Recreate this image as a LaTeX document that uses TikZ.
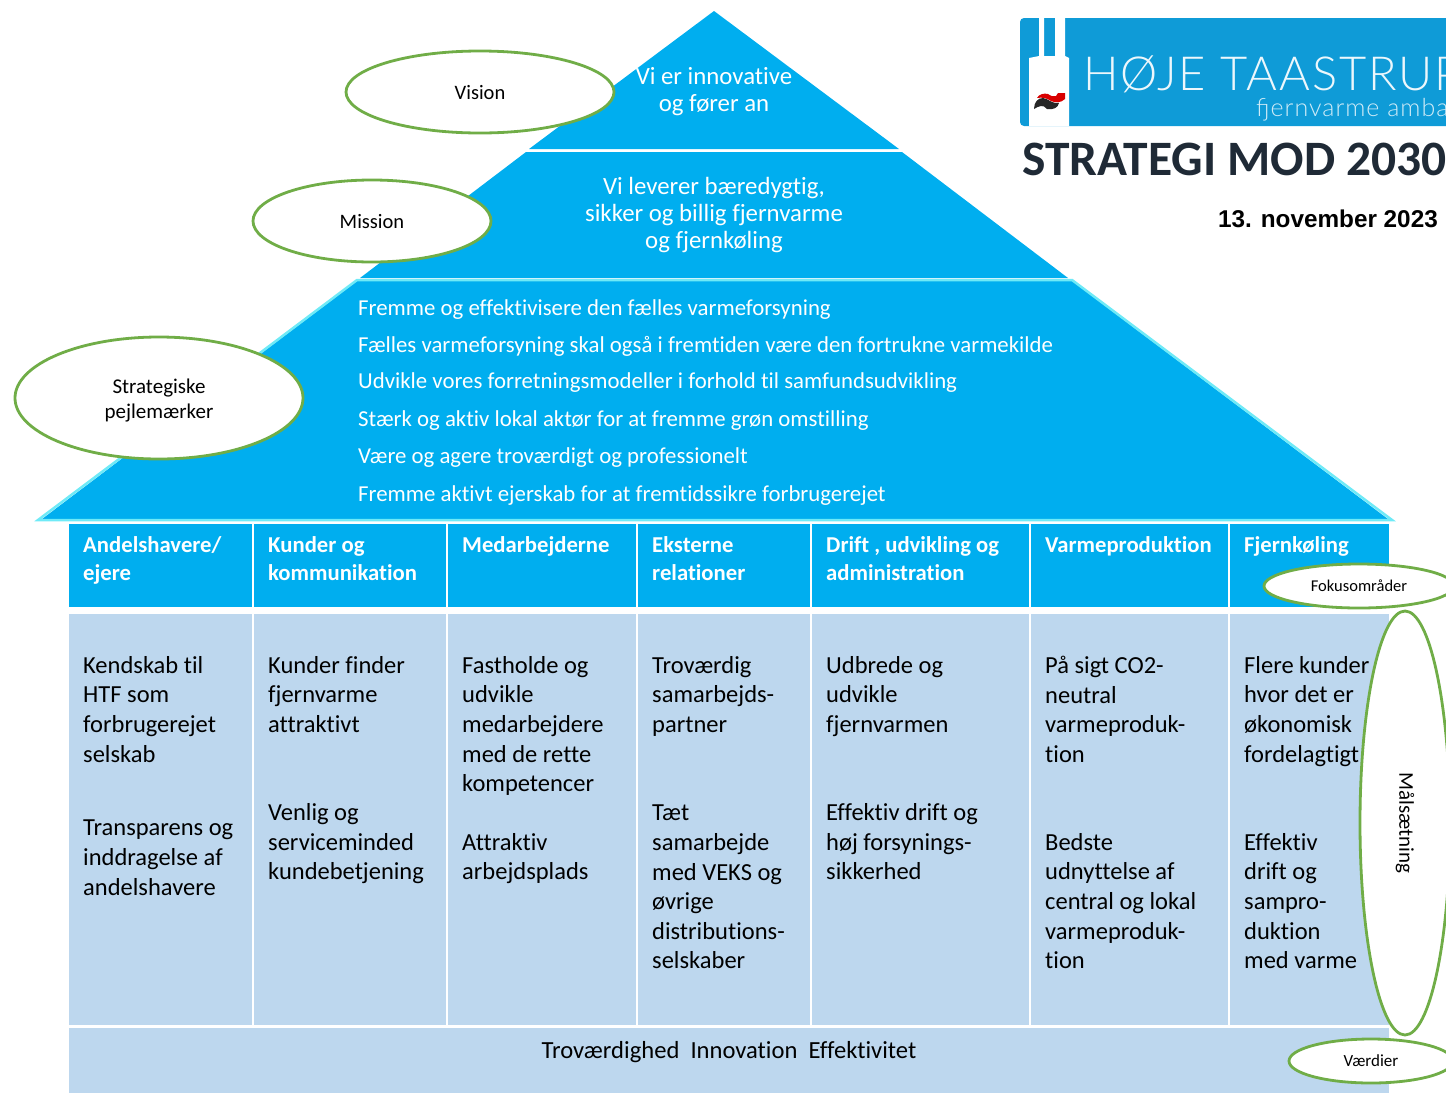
\documentclass[tikz,border=0pt]{standalone}
\usepackage{fontspec}
\setmainfont[Ligatures=NoCommon]{Carlito}
\newfontfamily\logofont[LetterSpace=4]{Lato Light}
\newfontfamily\datefont{Liberation Sans}
\usetikzlibrary{shapes.geometric}
\definecolor{roofblue}{HTML}{00AEEF}
\definecolor{edgecyan}{HTML}{6FEAF7}
\definecolor{bodyblue}{HTML}{BDD7EE}
\definecolor{logoblue}{HTML}{0F9BD7}
\definecolor{ringgreen}{HTML}{70AD47}
\definecolor{inkdark}{HTML}{1F2A36}
\tikzset{
    bubble/.style={ellipse,draw=ringgreen,line width=2.8pt,fill=white,inner sep=0pt},
    bubbletext/.style={text=black,align=center,inner sep=0pt},
    roofline/.style={font=\fontsize{22.8}{30}\selectfont,text=white,anchor=west,inner sep=0pt},
    roofhead/.style={font=\fontsize{24.8}{27}\selectfont,text=white,align=center,inner sep=0pt},
    headcell/.style={font=\fontsize{22.7}{28}\selectfont\bfseries,text=white,anchor=north west,align=left,inner sep=0pt},
    bodycell/.style={font=\fontsize{24.5}{29.6}\selectfont,text=black,anchor=north west,align=left,inner sep=0pt}
}
\begin{document}
\begin{tikzpicture}[x=1pt,y=-1pt]
    \useasboundingbox (0,0) rectangle (1446,1093);
    \clip (0,0) rectangle (1446,1093);

    \fill[roofblue] (714,11) -- (899,149) -- (529,149) -- cycle;
    \fill[roofblue] (526,152) -- (902,152) -- (1068,278) -- (360,278) -- cycle;
    \fill[roofblue] (357,281) -- (1072,281) -- (1388,519) -- (42,519) -- cycle;
    \draw[edgecyan,line width=2.5pt] (1072,280) -- (357,280) -- (38,520) -- (1392,520) -- cycle;

    \foreach \xa/\xb in {69/252,254/446,448/636,638/810,812/1029,1031/1228,1230/1389} {
        \fill[roofblue] (\xa,524) rectangle (\xb,607);
        \fill[bodyblue] (\xa,614) rectangle (\xb,1025);
    }
    \fill[bodyblue] (69,1028) rectangle (1389,1093);

    \fill[logoblue,rounded corners=4pt] (1020,18) rectangle (1470,126);
    \fill[white] (1029,126) -- (1029,58) -- (1039,56) -- (1039,18) -- (1044,18) -- (1044,56)
        -- (1055,56) -- (1055,18) -- (1065,18) -- (1065,56) -- (1069,58) -- (1069,126) -- cycle;
    \fill[black!85] (1034,109) .. controls (1034,102) and (1038,98) .. (1043,98)
        .. controls (1049,99) and (1052,104) .. (1059,103)
        .. controls (1058,108) and (1053,110) .. (1047,109)
        .. controls (1043,104) and (1039,106) .. (1034,109) -- cycle;
    \fill[red!85!black] (1037,98) .. controls (1039,94) and (1044,93) .. (1048,94)
        .. controls (1051,96) and (1053,97) .. (1056,96)
        -- (1058,93) -- (1065,93) -- (1065,99)
        .. controls (1061,103) and (1055,103) .. (1051,101)
        .. controls (1047,98) and (1042,97) .. (1037,98) -- cycle;

    \node[font=\logofont\fontsize{47}{47}\selectfont,text=white!92!logoblue,anchor=base west,inner sep=0pt] (logoname) at (1083,90) {HØJE TAASTRUP};
    \node[font=\logofont\fontsize{25}{25}\selectfont,text=white!80!logoblue,anchor=base west,inner sep=0pt] (logosub) at (1256,116) {fjernvarme amba};
    \node[font=\fontsize{49.5}{50}\selectfont\bfseries,text=inkdark,anchor=base west,inner sep=0pt] (title) at (1022,175) {STRATEGI MOD 2030};
    \node[font=\datefont\fontsize{24.3}{24}\selectfont\bfseries,text=black,anchor=base east,inner sep=0pt] (date) at (1438,227) {13. november 2023};

    \node[roofhead] (visiontext) at (714,92) {Vi er innovative\\og fører an};
    \node[roofhead] (missiontext) at (714,215.5) {Vi leverer bæredygtig,\\sikker og billig fjernvarme\\og fjernkøling};

    \begin{scope}[every node/.style={roofline}]
        \node (pejl1) at (358,310) {Fremme og effektivisere den fælles varmeforsyning};
        \node (pejl2) at (358,346) {Fælles varmeforsyning skal også i fremtiden være den fortrukne varmekilde};
        \node (pejl3) at (358,383) {Udvikle vores forretningsmodeller i forhold til samfundsudvikling};
        \node (pejl4) at (358,421) {Stærk og aktiv lokal aktør for at fremme grøn omstilling};
        \node (pejl5) at (358,458) {Være og agere troværdigt og professionelt};
        \node (pejl6) at (358,496) {Fremme aktivt ejerskab for at fremtidssikre forbrugerejet};
    \end{scope}

    \begin{scope}[every node/.style={headcell}]
        \node (head1) at (83,536) {Andelshavere/\\ejere};
        \node (head2) at (268,536) {Kunder og\\kommunikation};
        \node (head3) at (462,536) {Medarbejderne};
        \node (head4) at (652,536) {Eksterne\\relationer};
        \node (head5) at (826,536) {Drift , udvikling og\\administration};
        \node (head6) at (1045,536) {Varmeproduktion};
        \node (head7) at (1244,536) {Fjernkøling};
    \end{scope}

    \begin{scope}[every node/.style={bodycell}]
        \node (maal1a) at (83,656) {Kendskab til\\HTF som\\forbrugerejet\\selskab};
        \node (maal1b) at (83,820) {Transparens og\\inddragelse af\\andelshavere};
        \node (maal2a) at (268,656) {Kunder finder\\fjernvarme\\attraktivt};
        \node (maal2b) at (268,803.5) {Venlig og\\serviceminded\\kundebetjening};
        \node (maal3a) at (462,656) {Fastholde og\\udvikle\\medarbejdere\\med de rette\\kompetencer};
        \node (maal3b) at (462,833) {Attraktiv\\arbejdsplads};
        \node (maal4a) at (652,656) {Troværdig\\samarbejds-\\partner};
        \node (maal4b) at (652,805) {Tæt\\samarbejde\\med VEKS og\\øvrige\\distributions-\\selskaber};
        \node (maal5a) at (826,656) {Udbrede og\\udvikle\\fjernvarmen};
        \node (maal5b) at (826,803.5) {Effektiv drift og\\høj forsynings-\\sikkerhed};
        \node (maal6a) at (1045,656) {På sigt CO2-\\neutral\\varmeproduk-\\tion};
        \node (maal6b) at (1045,833) {Bedste\\udnyttelse af\\central og lokal\\varmeproduk-\\tion};
        \node (maal7a) at (1244,656) {Flere kunder\\hvor det er\\økonomisk\\fordelagtigt};
        \node (maal7b) at (1244,833) {Effektiv\\drift og\\sampro-\\duktion\\med varme};
    \end{scope}

    \node[font=\fontsize{24.6}{28}\selectfont,text=black,inner sep=0pt] (values) at (729,1052) {Troværdighed\ \ Innovation\ \ Effektivitet};

    \node[bubble,minimum width=268pt,minimum height=82pt] (vision) at (480,92) {};
    \node[bubbletext,font=\fontsize{20.5}{25}\selectfont] (visionlabel) at (480,93) {Vision};
    \node[bubble,minimum width=238pt,minimum height=82pt] (mission) at (372,221) {};
    \node[bubbletext,font=\fontsize{20.5}{25}\selectfont] (missionlabel) at (372,222) {Mission};
    \node[bubble,minimum width=288pt,minimum height=122pt] (pejlemaerker) at (159,398) {};
    \node[bubbletext,font=\fontsize{21}{25}\selectfont] (pejlelabel) at (159,401) {Strategiske\\pejlemærker};
    \node[bubble,minimum width=190pt,minimum height=44pt] (fokus) at (1359,586) {};
    \node[bubbletext,font=\fontsize{16.5}{20}\selectfont] (fokuslabel) at (1359,586) {Fokusområder};
    \node[bubble,minimum width=90pt,minimum height=424pt] (maalring) at (1405,823) {};
    \node[bubbletext,font=\fontsize{21}{20}\selectfont,rotate=270] (maalsaetning) at (1405,823) {Målsætning};
    \node[bubble,minimum width=164pt,minimum height=44pt] (vaerdier) at (1371,1061) {};
    \node[bubbletext,font=\fontsize{17}{20}\selectfont] (vaerdilabel) at (1371,1061) {Værdier};
\end{tikzpicture}
\end{document}
